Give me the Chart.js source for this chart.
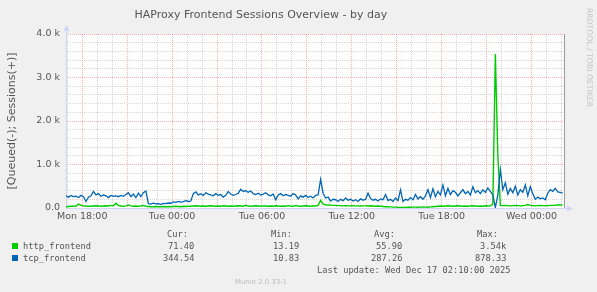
<!DOCTYPE html>
<html><head><meta charset="utf-8">
<script src="https://cdn.jsdelivr.net/npm/chart.js@4/dist/chart.umd.min.js"></script>
<style>
html,body{margin:0;padding:0;background:#f0f0f0;}
#wrap{position:relative;width:597px;height:292px;overflow:hidden;background:#f0f0f0;}
#c{position:absolute;left:0;top:0;}
.t{position:absolute;white-space:pre;line-height:1;color:#555;}
</style></head><body>
<div id="wrap"><canvas id="c" width="597" height="292"></canvas></div>
<script>
// ---- data ----
const startMinute = 1015;      // Mon 16:55 (minutes since Mon 00:00)
const stepMinutes = 10;
const endMinute = 3010;        // Wed 02:10
const dayNames = ['Mon', 'Tue', 'Wed'];
const seriesNames = ['http_frontend', 'tcp_frontend'];
const seriesColors = ['#00cc00', '#0066b3'];

const httpValues = [
  30,35,40,40,45,90,60,50,45,40,
  40,45,50,45,40,45,50,45,60,50,
  110,60,45,40,50,70,50,40,45,40,
  45,60,40,35,30,30,35,30,30,35,
  30,35,30,35,40,35,30,40,35,40,
  40,45,50,45,40,45,40,45,50,45,
  40,45,40,50,45,40,45,40,45,50,
  45,40,65,45,40,45,50,45,40,45,
  45,40,45,40,50,45,40,45,40,55,
  45,40,55,45,40,45,50,45,40,45,
  45,60,175,90,75,70,65,60,60,55,
  55,50,55,50,50,55,50,50,45,50,
  50,45,50,45,40,45,40,35,30,30,
  25,20,20,15,15,13.19,15,20,18,20,
  20,18,20,22,20,18,25,30,35,40,
  45,40,45,50,45,40,45,50,45,40,
  45,40,45,50,45,40,45,40,50,45,
  50,90,3540,1200,60,55,60,55,50,55,
  60,55,50,55,60,80,60,55,50,55,
  60,55,50,55,60,60,65,70,70,71.4
];
const tcpValues = [
  280,250,290,260,270,240,290,260,150,250,
  280,380,300,330,270,300,280,240,290,270,
  280,260,290,270,310,350,260,320,240,340,
  260,350,390,100,90,110,95,100,85,105,
  100,115,110,140,130,150,135,145,170,150,
  160,330,370,300,330,290,350,320,300,280,
  330,290,310,250,290,380,320,290,310,340,
  430,380,400,360,390,330,310,340,300,320,
  350,300,280,320,190,300,330,280,310,290,
  270,330,300,210,280,250,290,240,270,230,
  290,300,660,340,230,250,160,200,190,150,
  200,170,230,180,200,160,190,150,210,180,
  200,340,220,180,200,160,210,190,310,170,
  200,150,230,170,420,150,200,180,240,190,
  310,210,260,200,280,420,240,440,260,380,
  300,530,280,450,310,400,360,280,350,420,
  330,380,300,490,350,400,330,420,360,460,
  380,300,10.83,300,878.33,420,580,320,450,350,
  500,300,420,360,530,280,490,330,200,250,
  210,230,190,340,420,380,450,370,360,344.54
];
const yTickLabels = {0: '0.0', 1000: '1.0 k', 2000: '2.0 k', 3000: '3.0 k', 4000: '4.0 k'};
const statHeaders = ['Cur:', 'Min:', 'Avg:', 'Max:'];
const statsHttp = ['71.40', '13.19', '55.90', '3.54k'];
const statsTcp = ['344.54', '10.83', '287.26', '878.33'];
const titleText = 'HAProxy Frontend Sessions Overview - by day';
const yAxisTitle = '[Queued(-); Sessions(+)]';
const lastUpdate = 'Last update: Wed Dec 17 02:10:00 2025';
const versionText = 'Munin 2.0.33-1';
const watermark = 'RRDTOOL / TOBI OETIKER';

// ---- chart ----
const toPoints = vals => vals.map((v, i) => ({x: startMinute + i * stepMinutes, y: v}));
const MAJ = 'rgba(240,110,110,0.55)';
const MIN = 'rgba(175,175,175,0.5)';

const framePlugin = {
  id: 'frame',
  beforeDraw(chart) {
    const {ctx, chartArea: a} = chart;
    ctx.save();
    ctx.fillStyle = '#ffffff';
    ctx.fillRect(a.left, a.top, a.right - a.left, a.bottom - a.top);
    ctx.restore();
  },
  beforeDatasetsDraw(chart) {
    const {ctx, chartArea: a} = chart;
    ctx.save();
    ctx.strokeStyle = '#CFD6F8';
    ctx.fillStyle = '#CFD6F8';
    ctx.lineWidth = 1;
    const x0 = Math.round(a.left) + 0.5, y0 = Math.round(a.bottom) + 0.5;
    ctx.beginPath();
    ctx.moveTo(x0, y0); ctx.lineTo(x0, a.top - 4);
    ctx.moveTo(x0, y0); ctx.lineTo(a.right + 4, y0);
    ctx.stroke();
    ctx.beginPath();
    ctx.moveTo(x0, a.top - 9); ctx.lineTo(x0 - 3, a.top - 3); ctx.lineTo(x0 + 3, a.top - 3); ctx.closePath(); ctx.fill();
    ctx.beginPath();
    ctx.moveTo(a.right + 9, y0); ctx.lineTo(a.right + 3, y0 - 3); ctx.lineTo(a.right + 3, y0 + 3); ctx.closePath(); ctx.fill();
    ctx.restore();
  },
  afterDatasetsDraw(chart) {
    const {ctx, chartArea: a} = chart;
    ctx.save();
    ctx.strokeStyle = '#9a9a9a';
    ctx.lineWidth = 1;
    const xr = Math.round(a.right) + 0.5;
    ctx.beginPath(); ctx.moveTo(xr, a.top); ctx.lineTo(xr, a.bottom); ctx.stroke();
    ctx.restore();
  }
};

const pad2 = n => (n < 10 ? '0' : '') + n;

new Chart(document.getElementById('c'), {
  type: 'line',
  data: {
    datasets: [
      {label: seriesNames[0], data: toPoints(httpValues), borderColor: seriesColors[0], borderWidth: 1.4, pointRadius: 0, tension: 0, order: 1},
      {label: seriesNames[1], data: toPoints(tcpValues), borderColor: seriesColors[1], borderWidth: 1.3, pointRadius: 0, tension: 0, order: 0}
    ]
  },
  options: {
    responsive: false, animation: false, devicePixelRatio: 1,
    layout: {padding: {left: 0, top: 34, right: 33, bottom: 68}},
    plugins: {legend: {display: false}, tooltip: {enabled: false}, title: {display: false}},
    scales: {
      x: {
        type: 'linear', min: startMinute, max: endMinute,
        afterFit: s => { s.height = 16; },
        border: {display: false, dash: [1, 1]},
        grid: {drawTicks: false, lineWidth: 1, color: c => (c.tick && c.tick.value % 180 === 0) ? MAJ : MIN},
        ticks: {
          stepSize: 60, includeBounds: false, autoSkip: false, maxRotation: 0, padding: 3,
          color: '#555', font: {family: 'DejaVu Sans', size: 9.5},
          callback: v => v % 360 === 0 ? dayNames[Math.floor(v / 1440)] + ' ' + pad2((v % 1440) / 60) + ':00' : ''
        }
      },
      y: {
        min: 0, max: 4000,
        afterFit: s => { s.width = 66; },
        border: {display: false, dash: [1, 1]},
        grid: {drawTicks: false, lineWidth: 1, color: c => (c.tick && c.tick.value % 1000 === 0) ? MAJ : MIN},
        title: {display: true, text: yAxisTitle, color: '#555', font: {family: 'DejaVu Sans', size: 11}, padding: {top: 6, bottom: 0}},
        ticks: {
          stepSize: 200, autoSkip: false, padding: 6,
          color: '#555', font: {family: 'DejaVu Sans', size: 9.5},
          callback: v => (v in yTickLabels) ? yTickLabels[v] : ''
        }
      }
    }
  },
  plugins: [framePlugin]
});

// ---- text ----
const wrap = document.getElementById('wrap');
function put(text, x, y, o) {
  const s = document.createElement('span');
  s.className = 't';
  s.textContent = text;
  s.style.font = o.font;
  if (o.color) s.style.color = o.color;
  wrap.appendChild(s);
  const w = s.offsetWidth, h = s.offsetHeight;
  let left = x;
  if (o.align === 'right') left = x - w; else if (o.align === 'center') left = x - w / 2;
  s.style.left = left + 'px';
  s.style.top = (y - h / 2) + 'px';
  if (o.rotate) s.style.transform = 'rotate(' + o.rotate + 'deg)';
  return s;
}
const MONO = '8.7px "DejaVu Sans Mono"';
put(titleText, 261, 14, {font: '11px "DejaVu Sans"', align: 'center', color: '#555'});
put(watermark, 589, 57, {font: '7.7px "DejaVu Sans"', align: 'center', color: '#c4c4c4', rotate: 90});
const headerRight = [188, 292, 395, 498];
const valueRight = [194, 299, 402, 506];
statHeaders.forEach((h, i) => put(h, headerRight[i], 234, {font: MONO, align: 'right'}));
[statsHttp, statsTcp].forEach((row, r) => {
  const y = 246 + r * 11.6;
  const sq = document.createElement('div');
  sq.style.cssText = 'position:absolute;left:12px;top:' + (y - 3) + 'px;width:6px;height:6px;background:' + seriesColors[r];
  wrap.appendChild(sq);
  put(seriesNames[r], 23, y, {font: MONO});
  row.forEach((v, i) => put(v, valueRight[i], y, {font: MONO, align: 'right'}));
});
put(lastUpdate, 511, 270, {font: MONO, align: 'right'});
put(versionText, 261, 282, {font: '6.9px "DejaVu Sans"', align: 'center', color: '#bbb'});
</script>
</body></html>
